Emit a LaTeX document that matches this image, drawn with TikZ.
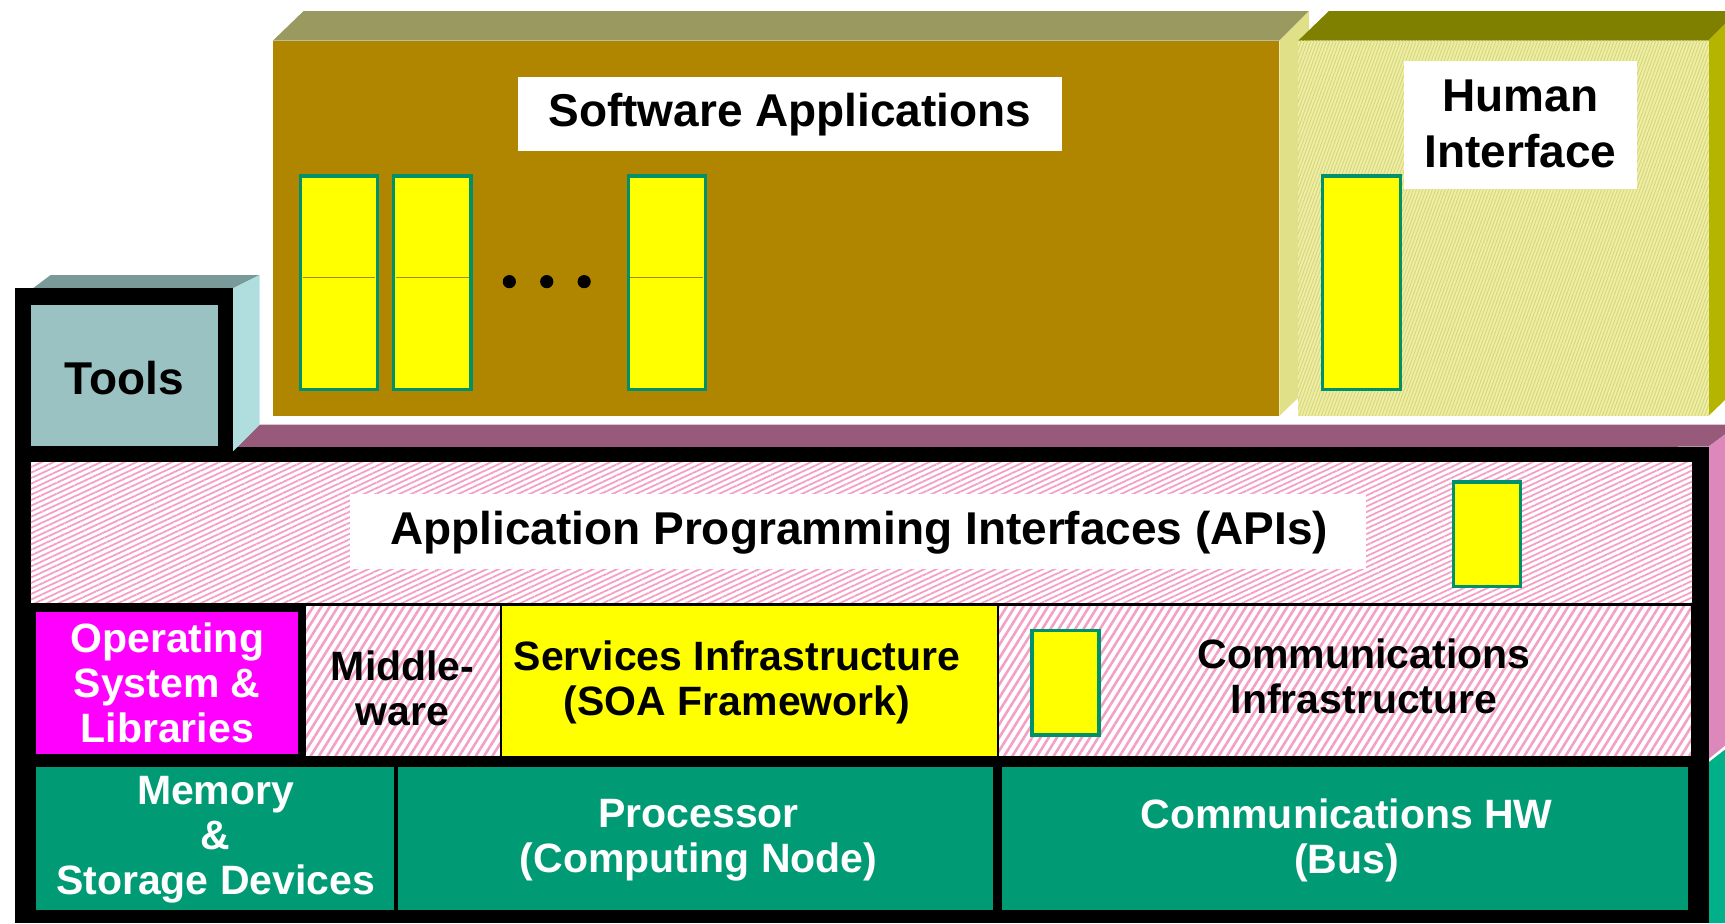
\documentclass[tikz,border=0pt]{standalone}
\usepackage{fontspec}
\setmainfont{Liberation Sans}
\usetikzlibrary{patterns.meta}
\definecolor{swfront}{RGB}{176,134,0}
\definecolor{swtop}{RGB}{153,153,96}
\definecolor{swside}{RGB}{224,224,136}
\definecolor{hitop}{RGB}{127,127,0}
\definecolor{hiside}{RGB}{181,181,0}
\definecolor{hifront}{RGB}{238,238,168}
\definecolor{hihatch}{RGB}{214,214,118}
\definecolor{appgreen}{RGB}{0,144,106}
\definecolor{tooltop}{RGB}{122,154,154}
\definecolor{toolside}{RGB}{176,222,222}
\definecolor{toolfront}{RGB}{155,194,194}
\definecolor{plattop}{RGB}{151,90,122}
\definecolor{platside}{RGB}{221,136,187}
\definecolor{hwside}{RGB}{0,176,136}
\definecolor{hwgreen}{RGB}{0,155,116}
\definecolor{hatchpink}{RGB}{244,160,196}
\definecolor{pureyellow}{RGB}{255,255,0}
\definecolor{puremagenta}{RGB}{255,0,255}
\tikzset{
  appbox/.style={fill=pureyellow, draw=appgreen, line width=3.3pt},
  lbl/.style={font=\fontsize{46}{56}\selectfont\bfseries, align=center, inner sep=0pt},
  lbls/.style={font=\fontsize{41}{45}\selectfont\bfseries, align=center, inner sep=0pt},
  cell/.style={draw=black, line width=2pt},
  apihatch/.style={pattern={Lines[angle=25,distance=5pt,line width=1.8pt]}, pattern color=hatchpink},
  midhatch/.style={pattern={Lines[angle=58,distance=7pt,line width=2.6pt]}, pattern color=hatchpink},
  hihatchpat/.style={pattern={Lines[angle=70,distance=3pt,line width=0.9pt]}, pattern color=hihatch},
  wbox/.style={fill=white},
}
\begin{document}
\begin{tikzpicture}[x=1.1pt,y=-1.1pt]
\useasboundingbox (0,0) rectangle (1568,839);
\clip (0,0) rectangle (1568,839);

% ---------- Software Applications block
\fill[swtop] (248,37) -- (276,10) -- (1190,10) -- (1163,37) -- cycle;
\fill[swside] (1163,37) -- (1190,10) -- (1190,352) -- (1163,378) -- cycle;
\fill[swfront] (248,37) rectangle (1163,378);
\fill[wbox] (471,70) rectangle (965,137);
\node[lbl] (sw) at (718,104) {Software Applications};
\foreach \x/\n in {273/a1,358/a2,571/a3}{
  \draw[appbox] (\x,160) rectangle ++(70,194);
  \draw[swfront, line width=0.8pt] (\x+2,252) -- ++(66,0);
}
\foreach \x/\n in {463/d1,497/d2,531/d3}
  \fill (\x,256) circle (6);

% ---------- Human Interface block
\fill[hitop] (1180,37) -- (1208,10) -- (1580,10) -- (1553,37) -- cycle;
\fill[hiside] (1553,37) -- (1580,10) -- (1580,352) -- (1553,378) -- cycle;
\fill[hifront] (1180,37) rectangle (1553,378);
\fill[hihatchpat] (1180,37) rectangle (1553,378);
\draw[appbox] (1202,160) rectangle (1273,354);
\fill[wbox] (1276,55) rectangle (1488,172);
\node[lbl] (hi) at (1382,113) {Human\\Interface};

% ---------- Platform
\fill[plattop] (212,410) -- (236,386) -- (1580,386) -- (1553,406) -- cycle;
\fill[platside] (1553,406) -- (1580,386) -- (1580,668) -- (1553,690) -- cycle;
\fill[hwside] (1553,693) -- (1580,672) -- (1580,839) -- (1553,839) -- cycle;
\fill[black] (14,406) rectangle (1553,839);

% ---------- Tools block
\fill[tooltop] (30,262) -- (46,250) -- (236,250) -- (212,262) -- cycle;
\fill[toolside] (212,262) -- (236,250) -- (236,386) -- (212,410) -- cycle;
\fill[black] (14,262) rectangle (212,420);
\fill[toolfront] (28,277) rectangle (198,405);
\node[lbl] (tools) at (113,344) {Tools};

% ---------- API row
\fill[white] (28,420) rectangle (1538,548);
\fill[apihatch] (28,420) rectangle (1538,548);
\fill[wbox] (318,449) rectangle (1242,517);
\node[lbl] (api) at (781,484) {Application Programming Interfaces (APIs)};
\draw[appbox] (1321,438) rectangle (1382,533);

% ---------- Middle row
\fill[white] (277,548) rectangle (1538,688);
\draw[black, line width=2pt] (277,549) -- (1538,549);
\fill[puremagenta] (33,556) rectangle (271,685);
\node[lbls, white] (os) at (152,621) {Operating\\System \&\\Libraries};
\fill[midhatch] (278,550) rectangle (455,688);
\draw[cell] (277,550) rectangle (455,688);
\node[lbls] (mw) at (366,626) {Middle-\\ware};
\fill[pureyellow] (455,550) rectangle (907,688);
\draw[cell] (455,550) rectangle (907,688);
\node[lbls] (svc) at (670,620) {Services Infrastructure\\(SOA Framework)};
\fill[midhatch] (907,550) rectangle (1538,688);
\draw[cell] (907,550) rectangle (1538,688);
\draw[appbox] (938,573) rectangle (999,668);
\node[lbls] (ci) at (1240,615) {Communications\\Infrastructure};

% ---------- Hardware row
\fill[hwgreen] (33,697) rectangle (358,827);
\fill[hwgreen] (362,697) rectangle (903,827);
\fill[hwgreen] (911,697) rectangle (1534,827);
\node[lbls, white] (mem) at (196,763) {Memory\\\&\\Storage Devices};
\node[lbls, white] (cpu) at (635,764) {Processor\\(Computing Node)};
\node[lbls, white] (bus) at (1224,764) {Communications HW\\(Bus)};
\end{tikzpicture}
\end{document}
